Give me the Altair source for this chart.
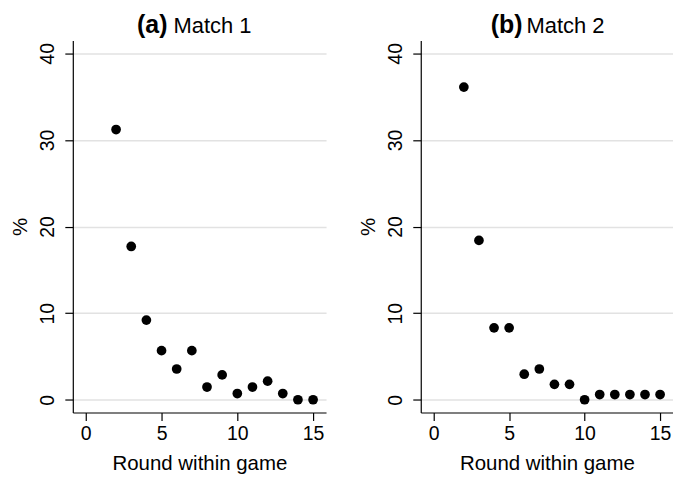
import altair as alt
import pandas as pd

rounds = list(range(2, 16))
match1 = [31.2, 17.7, 9.2, 5.67, 3.55, 5.67, 1.47, 2.87, 0.72, 1.47, 2.15, 0.72, 0.0, 0.0]
match2 = [36.1, 18.4, 8.3, 8.3, 2.95, 3.55, 1.78, 1.78, 0.0, 0.6, 0.6, 0.6, 0.6, 0.6]
panel_labels = ["(a)", "(b)"]
panel_names = ["Match 1", "Match 2"]
x_ticks = [0, 5, 10, 15]
y_ticks = [0, 10, 20, 30, 40]

FONT = "Liberation Sans"


def panel(values, label, name, w, lab_x, name_x):
    df = pd.DataFrame({"round": rounds, "pct": values})
    x = alt.X(
        "round:Q",
        scale=alt.Scale(domain=[-0.855, 15.855], nice=False, zero=False),
        axis=alt.Axis(values=x_ticks, title="Round within game", grid=False,
                      labelPadding=4, titlePadding=11, format="d"),
    )
    y = alt.Y(
        "pct:Q",
        scale=alt.Scale(domain=[-1.47, 41.47], nice=False, zero=False),
        axis=alt.Axis(values=y_ticks, title="%", grid=True, labelAngle=-90,
                      labelAlign="center", labelBaseline="alphabetic",
                      labelPadding=11, titlePadding=7, format="d"),
    )
    pts = alt.Chart(df).mark_circle(size=95, color="black", opacity=1).encode(x=x, y=y)
    t1 = alt.Chart(pd.DataFrame({"t": [label]})).mark_text(
        font=FONT, fontSize=25, fontWeight="bold", align="right",
        baseline="alphabetic", color="black",
    ).encode(text="t:N", x=alt.value(lab_x), y=alt.value(-8))
    t2 = alt.Chart(pd.DataFrame({"t": [name]})).mark_text(
        font=FONT, fontSize=22, fontWeight="normal", align="left",
        baseline="alphabetic", color="black",
    ).encode(text="t:N", x=alt.value(name_x), y=alt.value(-8))
    return alt.layer(pts, t1, t2).properties(width=w, height=373)


a = panel(match1, panel_labels[0], panel_names[0], 254, 95, 101)
b = panel(match2, panel_labels[1], panel_names[1], 253, 102, 106)

chart = (
    alt.hconcat(a, b, spacing=33)
    .properties(padding={"left": 3, "top": 4, "right": 0, "bottom": 0})
    .configure_view(stroke=None)
    .configure_axis(
        labelFont=FONT, titleFont=FONT, labelFontSize=19.5, titleFontSize=20.5,
        titleFontWeight="normal", labelColor="black", titleColor="black",
        domainColor="black", domainWidth=1.2, tickColor="black", tickWidth=1.2,
        tickSize=8, gridColor="#e2e2e2", gridWidth=1.6,
    )
)

chart.save("out.html", embed_options={"renderer": "svg", "actions": False})
